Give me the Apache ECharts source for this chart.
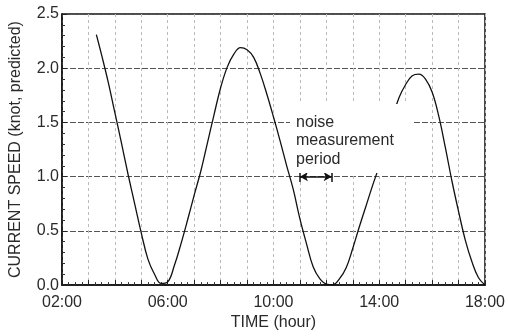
<!DOCTYPE html>
<html>
<head>
<meta charset="utf-8">
<script src="https://cdn.jsdelivr.net/npm/echarts@6/dist/echarts.min.js"></script>
<style>
html,body{margin:0;padding:0;background:#fff;}
#chart{width:508px;height:336px;}
</style>
</head>
<body>
<div id="chart"></div>
<script>
// time in hours, current speed in knots
var curveTime = [3.30,3.5,3.75,4.0,4.25,4.5,4.75,5.0,5.25,5.5,5.75,6.0,6.25,6.5,6.75,7.0,7.25,7.5,7.75,8.0,8.25,8.5,8.75,9.0,9.25,9.5,9.75,10.0,10.25,10.5,10.75,11.0,11.25,11.5,11.75,12.0,12.25,12.5,12.75,13.0,13.25,13.5,13.75,14.0,14.25,14.5,14.75,15.0,15.25,15.5,15.75,16.0,16.25,16.5,16.75,17.0,17.25,17.5,17.75,18.0];
var curveSpeed = [2.31,2.12,1.87,1.59,1.31,1.02,0.75,0.48,0.24,0.10,0.015,0.03,0.18,0.38,0.60,0.83,1.05,1.31,1.57,1.82,2.01,2.13,2.19,2.17,2.10,1.95,1.76,1.55,1.33,1.10,0.88,0.61,0.38,0.17,0.06,0.01,0.005,0.06,0.16,0.34,0.54,0.73,0.92,1.10,1.32,1.54,1.73,1.85,1.93,1.945,1.90,1.78,1.56,1.27,0.96,0.68,0.42,0.22,0.07,0];
var xTickValues = [2,6,10,14,18];
var xTickLabels = ['02:00','06:00','10:00','14:00','18:00'];
var periodStart = 11.0, periodEnd = 12.2, periodLevel = 1.0;
var noteText = 'noise\nmeasurement\nperiod';

var data = curveTime.map(function(t,i){return [t, curveSpeed[i]];});
var FONT = 'Liberation Sans';
var chart = echarts.init(document.getElementById('chart'), null, {renderer:'canvas'});
chart.setOption({
  animation:false,
  backgroundColor:'#fff',
  grid:{left:54,right:19,top:14,bottom:48,show:true,borderColor:'#111',borderWidth:1.5,backgroundColor:'transparent'},
  xAxis:{
    type:'value',min:2,max:18,interval:1,
    name:'TIME (hour)',nameLocation:'middle',nameGap:28,
    nameTextStyle:{fontSize:16,color:'#2a2a2a',fontFamily:FONT},
    axisLine:{lineStyle:{color:'#111',width:1.5}},
    axisTick:{inside:true,length:5,lineStyle:{color:'#222'}},
    minorTick:{show:true,splitNumber:4,length:3,lineStyle:{color:'#333'}},
    axisLabel:{fontSize:16,color:'#2a2a2a',fontFamily:FONT,margin:9,showMaxLabel:true,
      formatter:function(v){var i=xTickValues.indexOf(Math.round(v)); return i>=0?xTickLabels[i]:'';}},
    splitLine:{show:true,lineStyle:{color:'#bbb',type:[3,3],width:1}}
  },
  yAxis:{
    type:'value',min:0,max:2.5,interval:0.5,
    name:'CURRENT SPEED (knot, predicted)',nameLocation:'middle',nameGap:38,
    nameTextStyle:{fontSize:16,color:'#2a2a2a',fontFamily:FONT},
    axisLine:{show:true,lineStyle:{color:'#111',width:1.5}},
    axisTick:{show:true,inside:true,length:5,lineStyle:{color:'#222'}},
    minorTick:{show:true,splitNumber:5,length:3,lineStyle:{color:'#333'}},
    axisLabel:{fontSize:16,color:'#2a2a2a',fontFamily:FONT,margin:3,formatter:function(v){return v.toFixed(1);}},
    splitLine:{show:true,lineStyle:{color:'#555',type:[6,2],width:1}}
  },
  series:[{
    type:'line',data:data,smooth:0.4,symbol:'none',
    lineStyle:{color:'#111',width:1.3},
    markLine:{
      silent:true,animation:false,
      label:{show:false},
      lineStyle:{color:'#111',width:1.5,type:'solid'},
      data:[
        [{coord:[periodStart,periodLevel],symbol:'arrow',symbolSize:[7,8]},{coord:[periodEnd,periodLevel],symbol:'arrow',symbolSize:[7,8]}],
        [{coord:[periodStart,periodLevel-0.05],symbol:'none'},{coord:[periodStart,periodLevel+0.05],symbol:'none'}],
        [{coord:[periodEnd,periodLevel-0.05],symbol:'none'},{coord:[periodEnd,periodLevel+0.05],symbol:'none'}]
      ]
    }
  }],
  graphic:[
    {type:'rect',left:290,top:104,z:100,shape:{width:122,height:69},style:{fill:'#fff'}},
    {type:'text',left:296,top:113,z:101,style:{text:noteText,font:'16px "Liberation Sans"',lineHeight:18.5,fill:'#2a2a2a'}}
  ]
});
</script>
</body>
</html>
